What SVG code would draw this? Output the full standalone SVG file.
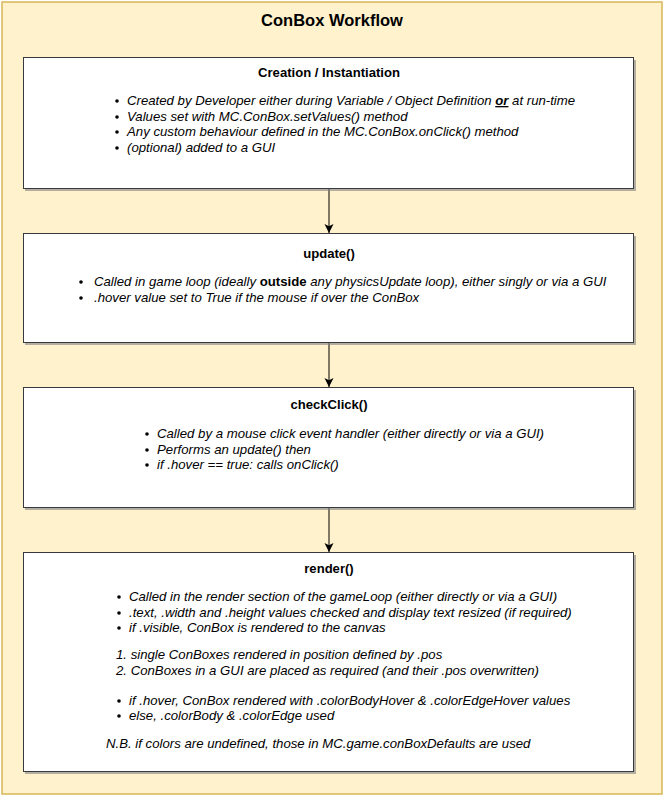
<svg xmlns="http://www.w3.org/2000/svg" width="665" height="799" viewBox="0 0 665 799">
<style>
text{font-family:"Liberation Sans",Arial,sans-serif;fill:#000}
.title{font-size:16.5px;font-weight:bold;text-anchor:middle}
.head{font-size:13.1px;font-weight:bold;text-anchor:middle}
.item{font-size:13.2px;font-style:italic}
.box{fill:#fff;stroke:#36393d;stroke-width:1}
.shadow{fill:#808080;opacity:0.6}
.conn{stroke:#000;stroke-width:1;fill:none}
</style>
<defs>
<marker id="arr" markerWidth="12" markerHeight="12" refX="9" refY="6" orient="auto" markerUnits="userSpaceOnUse">
<path d="M0,1.5 L9,6 L0,10.5 L2.2,6 Z" fill="#000"/>
</marker>
</defs>
<g id="container">
<rect x="2" y="2" width="660" height="792" fill="#fff2cc" stroke="#d6b656" stroke-width="1.5"/>
<text class="title" x="332" y="26">ConBox Workflow</text>
</g>
<g id="connectors">
<line class="conn" x1="329" y1="189" x2="329" y2="233" marker-end="url(#arr)"/>
<line class="conn" x1="329" y1="343" x2="329" y2="387" marker-end="url(#arr)"/>
<line class="conn" x1="329" y1="508" x2="329" y2="552" marker-end="url(#arr)"/>
</g>
<g id="creation">
<rect class="shadow" x="25" y="60" width="611" height="131"/>
<rect class="box" x="23.5" y="57.5" width="610" height="131"/>
<text class="head" x="329" y="77">Creation / Instantiation</text>
<circle cx="117" cy="101" r="1.8"/>
<text class="item" x="127" y="105">Created by Developer either during Variable / Object Definition <tspan font-weight="bold" text-decoration="underline">or</tspan> at run-time</text>
<circle cx="117" cy="117" r="1.8"/>
<text class="item" x="127" y="121">Values set with MC.ConBox.setValues() method</text>
<circle cx="117" cy="132" r="1.8"/>
<text class="item" x="127" y="136">Any custom behaviour defined in the MC.ConBox.onClick() method</text>
<circle cx="117" cy="148" r="1.8"/>
<text class="item" x="127" y="152">(optional) added to a GUI</text>
</g>
<g id="update">
<rect class="shadow" x="25" y="236" width="611" height="109"/>
<rect class="box" x="23.5" y="233.5" width="610" height="109"/>
<text class="head" x="329" y="258">update()</text>
<circle cx="81" cy="282" r="1.8"/>
<text class="item" x="94" y="286">Called in game loop (ideally <tspan font-weight="bold" font-style="normal">outside</tspan> any physicsUpdate loop), either singly or via a GUI</text>
<circle cx="81" cy="298" r="1.8"/>
<text class="item" x="94" y="302">.hover value set to True if the mouse if over the ConBox</text>
</g>
<g id="checkClick">
<rect class="shadow" x="25" y="390" width="611" height="120"/>
<rect class="box" x="23.5" y="387.5" width="610" height="120"/>
<text class="head" x="329" y="409">checkClick()</text>
<circle cx="147" cy="434" r="1.8"/>
<text class="item" x="157" y="438">Called by a mouse click event handler (either directly or via a GUI)</text>
<circle cx="147" cy="450" r="1.8"/>
<text class="item" x="157" y="454">Performs an update() then</text>
<circle cx="147" cy="465" r="1.8"/>
<text class="item" x="157" y="469">if .hover == true: calls onClick()</text>
</g>
<g id="render">
<rect class="shadow" x="25" y="555" width="611" height="219"/>
<rect class="box" x="23.5" y="552.5" width="610" height="219"/>
<text class="head" x="329" y="573">render()</text>
<circle cx="119" cy="597" r="1.8"/>
<text class="item" x="129" y="601">Called in the render section of the gameLoop (either directly or via a GUI)</text>
<circle cx="119" cy="613" r="1.8"/>
<text class="item" x="129" y="617">.text, .width and .height values checked and display text resized (if required)</text>
<circle cx="119" cy="628" r="1.8"/>
<text class="item" x="129" y="632">if .visible, ConBox is rendered to the canvas</text>
<text class="item" x="116" y="659">1. single ConBoxes rendered in position defined by .pos</text>
<text class="item" x="116" y="675">2. ConBoxes in a GUI are placed as required (and their .pos overwritten)</text>
<circle cx="119" cy="701" r="1.8"/>
<text class="item" x="129" y="705">if .hover, ConBox rendered with .colorBodyHover &amp; .colorEdgeHover values</text>
<circle cx="119" cy="716" r="1.8"/>
<text class="item" x="129" y="720">else, .colorBody &amp; .colorEdge used</text>
<text class="item" x="106" y="748">N.B. if colors are undefined, those in MC.game.conBoxDefaults are used</text>
</g>
</svg>
